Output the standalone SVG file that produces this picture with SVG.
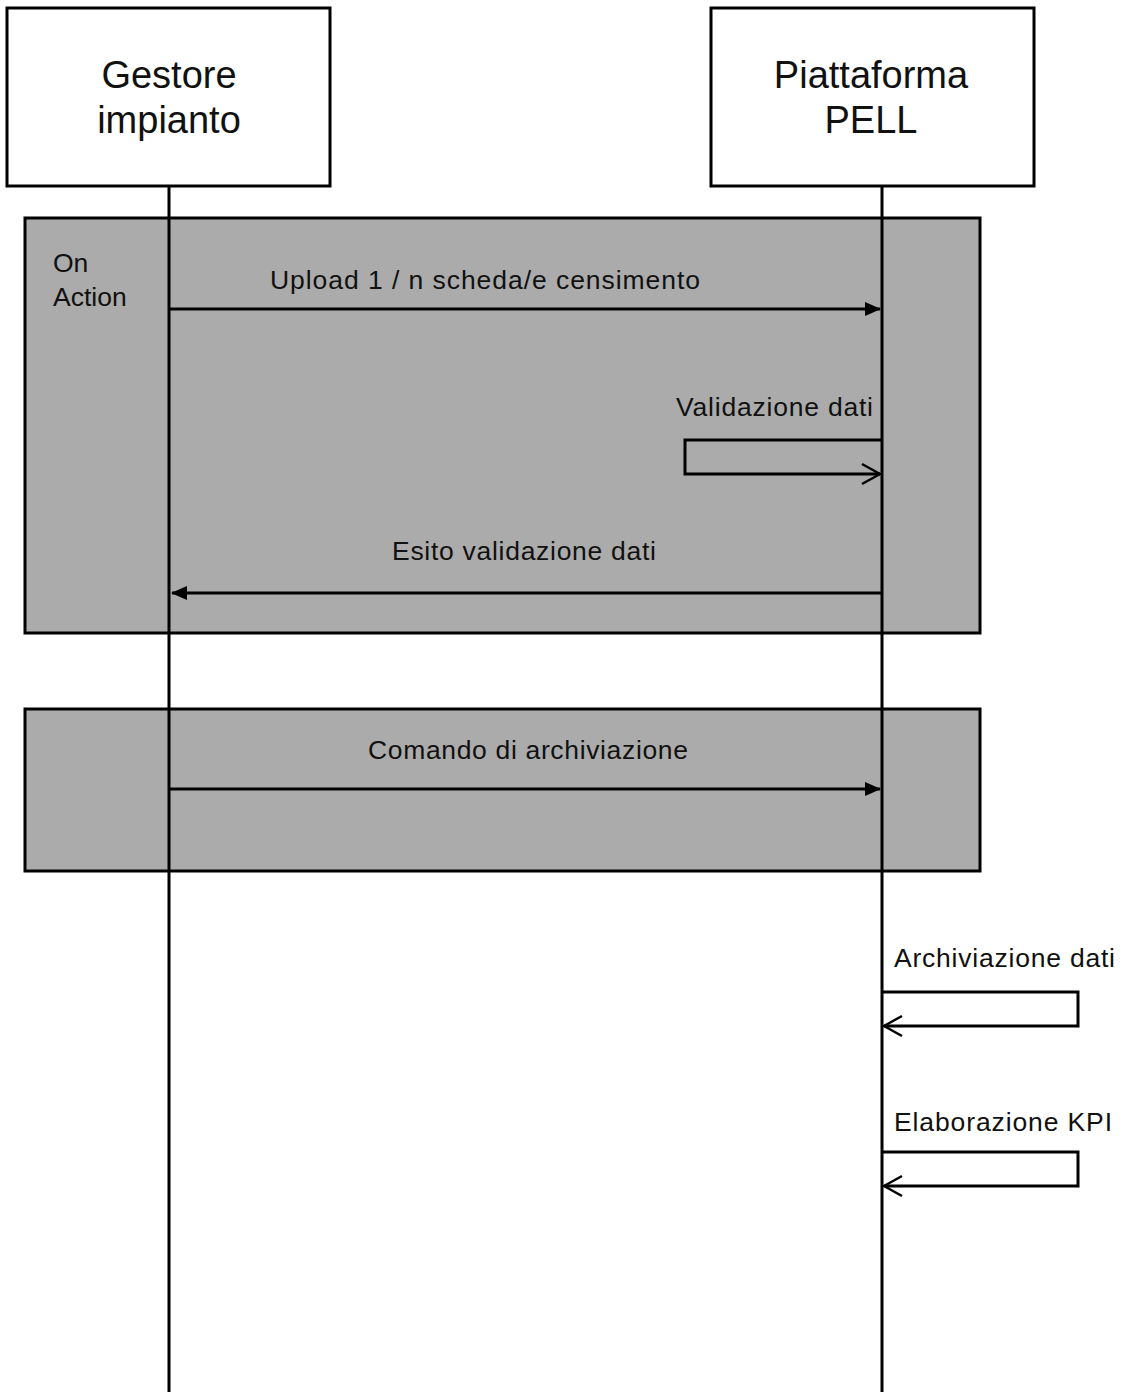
<svg xmlns="http://www.w3.org/2000/svg" width="1123" height="1392" viewBox="0 0 1123 1392">
<style>
text{font-family:"Liberation Sans",Arial,sans-serif;fill:#111}
.hdr{font-size:38px;text-anchor:middle}
.lbl{font-size:26.5px}
.box{fill:#fff;stroke:#000;stroke-width:3}
.frame{fill:#ababab;stroke:#000;stroke-width:3}
.life{stroke:#000;stroke-width:3;fill:none}
.msg{stroke:#000;stroke-width:3;fill:none}
</style>
<defs>
<marker id="filled" markerWidth="16" markerHeight="14" refX="15" refY="7" orient="auto" markerUnits="userSpaceOnUse">
<path d="M0,0 L16,7 L0,14 Z" fill="#000"/>
</marker>
<marker id="open" markerWidth="22" markerHeight="24" refX="20" refY="12" orient="auto" markerUnits="userSpaceOnUse">
<path d="M2,2 L20,12 L2,22" fill="none" stroke="#000" stroke-width="2.5"/>
</marker>
</defs>
<g id="frame-onaction">
<rect class="frame" x="25" y="218" width="955" height="415"/>
<text class="lbl" x="53" y="272">On</text>
<text class="lbl" x="53" y="306">Action</text>
</g>
<g id="frame-archiviazione">
<rect class="frame" x="25" y="709" width="955" height="162"/>
</g>
<g id="gestore">
<rect class="box" x="7" y="8" width="323" height="178"/>
<text class="hdr" x="169" y="88">Gestore</text>
<text class="hdr" x="169" y="133">impianto</text>
</g>
<g id="pell">
<rect class="box" x="711" y="8" width="323" height="178"/>
<text class="hdr" x="871" y="88">Piattaforma</text>
<text class="hdr" x="871" y="133">PELL</text>
</g>
<g id="connectors">
<line class="life" x1="169" y1="186" x2="169" y2="1392"/>
<line class="life" x1="882" y1="186" x2="882" y2="1392"/>
<line class="msg" x1="169" y1="309" x2="880" y2="309" marker-end="url(#filled)"/>
<text class="lbl" x="270" y="289" textLength="430">Upload 1 / n scheda/e censimento</text>
<polyline class="msg" points="882,440 685,440 685,474 880,474" marker-end="url(#open)"/>
<text class="lbl" x="676" y="416" textLength="197">Validazione dati</text>
<line class="msg" x1="882" y1="593" x2="172" y2="593" marker-end="url(#filled)"/>
<text class="lbl" x="392" y="560" textLength="264">Esito validazione dati</text>
<line class="msg" x1="169" y1="789" x2="880" y2="789" marker-end="url(#filled)"/>
<text class="lbl" x="368" y="759" textLength="320">Comando di archiviazione</text>
<polyline class="msg" points="882,992 1078,992 1078,1026 884,1026" marker-end="url(#open)"/>
<text class="lbl" x="894" y="967" textLength="221">Archiviazione dati</text>
<polyline class="msg" points="882,1152 1078,1152 1078,1186 884,1186" marker-end="url(#open)"/>
<text class="lbl" x="894" y="1131" textLength="218">Elaborazione KPI</text>
</g>
</svg>
